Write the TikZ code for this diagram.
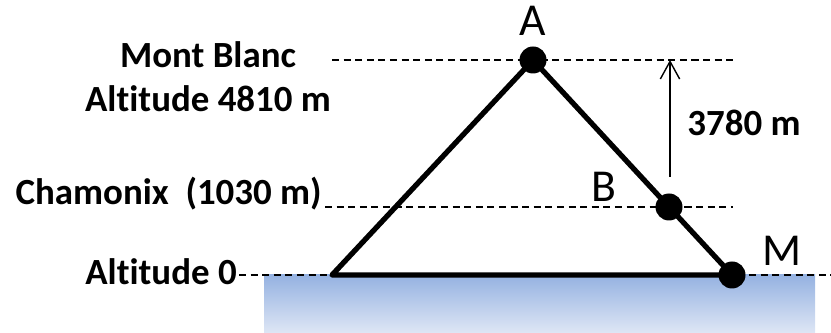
\documentclass[tikz,border=0pt]{standalone}
\usepackage{fontspec}
\setmainfont{Carlito}[Ligatures=NoCommon]
\usetikzlibrary{arrows.meta, positioning}
\definecolor{myseatop}{RGB}{149, 178, 225}
\definecolor{myseabottom}{RGB}{222, 230, 245}

\begin{document}
\begin{tikzpicture}[x=0.02cm, y=-0.02cm,
    guide/.style={line width=0.6pt, dash pattern=on 4pt off 2.6pt},
    ridge/.style={line width=3pt, line join=round},
    dot/.style={circle, fill, inner sep=0pt, minimum size=0.54cm},
    alt/.style={font=\fontsize{21}{25}\selectfont\bfseries, inner sep=0pt},
    ptname/.style={font=\fontsize{26}{30}\selectfont, inner sep=0pt}]
\useasboundingbox (0,0) rectangle (831,333);

% Sea level
\shade[top color=myseatop, bottom color=myseabottom] (264,275) rectangle (815,333);

% Mountain corners
\coordinate (pA) at (533,60);
\coordinate (pB) at (669,207);
\coordinate (pM) at (732,275);
\coordinate (pL) at (332,275);

% Altitude labels
\node[alt, anchor=base] (blanc) at (208,68) {Mont Blanc};
\node[alt, anchor=base] (alt4810) at (208,112) {Altitude 4810 m};
\node[alt, anchor=base east] (cham) at (322,205) {Chamonix~ (1030 m)};
\node[alt, anchor=base east] (zero) at (237,285) {Altitude 0};

% Guide lines
\coordinate (g1a) at (332,60);  \coordinate (g1b) at (733,60);
\coordinate (g2a) at (325,207); \coordinate (g2b) at (733,207);
\coordinate (g3a) at (239,275); \coordinate (g3b) at (831,275);
\draw[guide] (g1a) -- (g1b);
\draw[guide] (g2a) -- (g2b);
\draw[guide] (g3a) -- (g3b);

% Mountain
\draw[ridge] (pL) -- (pA) -- (pM) -- cycle;
\node[dot] (A) at (pA) {};
\node[dot] (B) at (pB) {};
\node[dot] (M) at (pM) {};
\node[ptname, above=0.2cm of A] (nA) {A};
\node[ptname, anchor=south east] (nB) at (617,202) {B};
\node[ptname, anchor=south west] (nM) at (762,266) {M};

% Height difference
\coordinate (h0) at (670,177);
\coordinate (h1) at (670,60);
\draw[-{Straight Barb[length=10pt, width=11pt]}, line width=0.8pt] (h0) -- (h1);
\node[alt, anchor=base] (diff) at (744,136) {3780 m};
\end{tikzpicture}
\end{document}
